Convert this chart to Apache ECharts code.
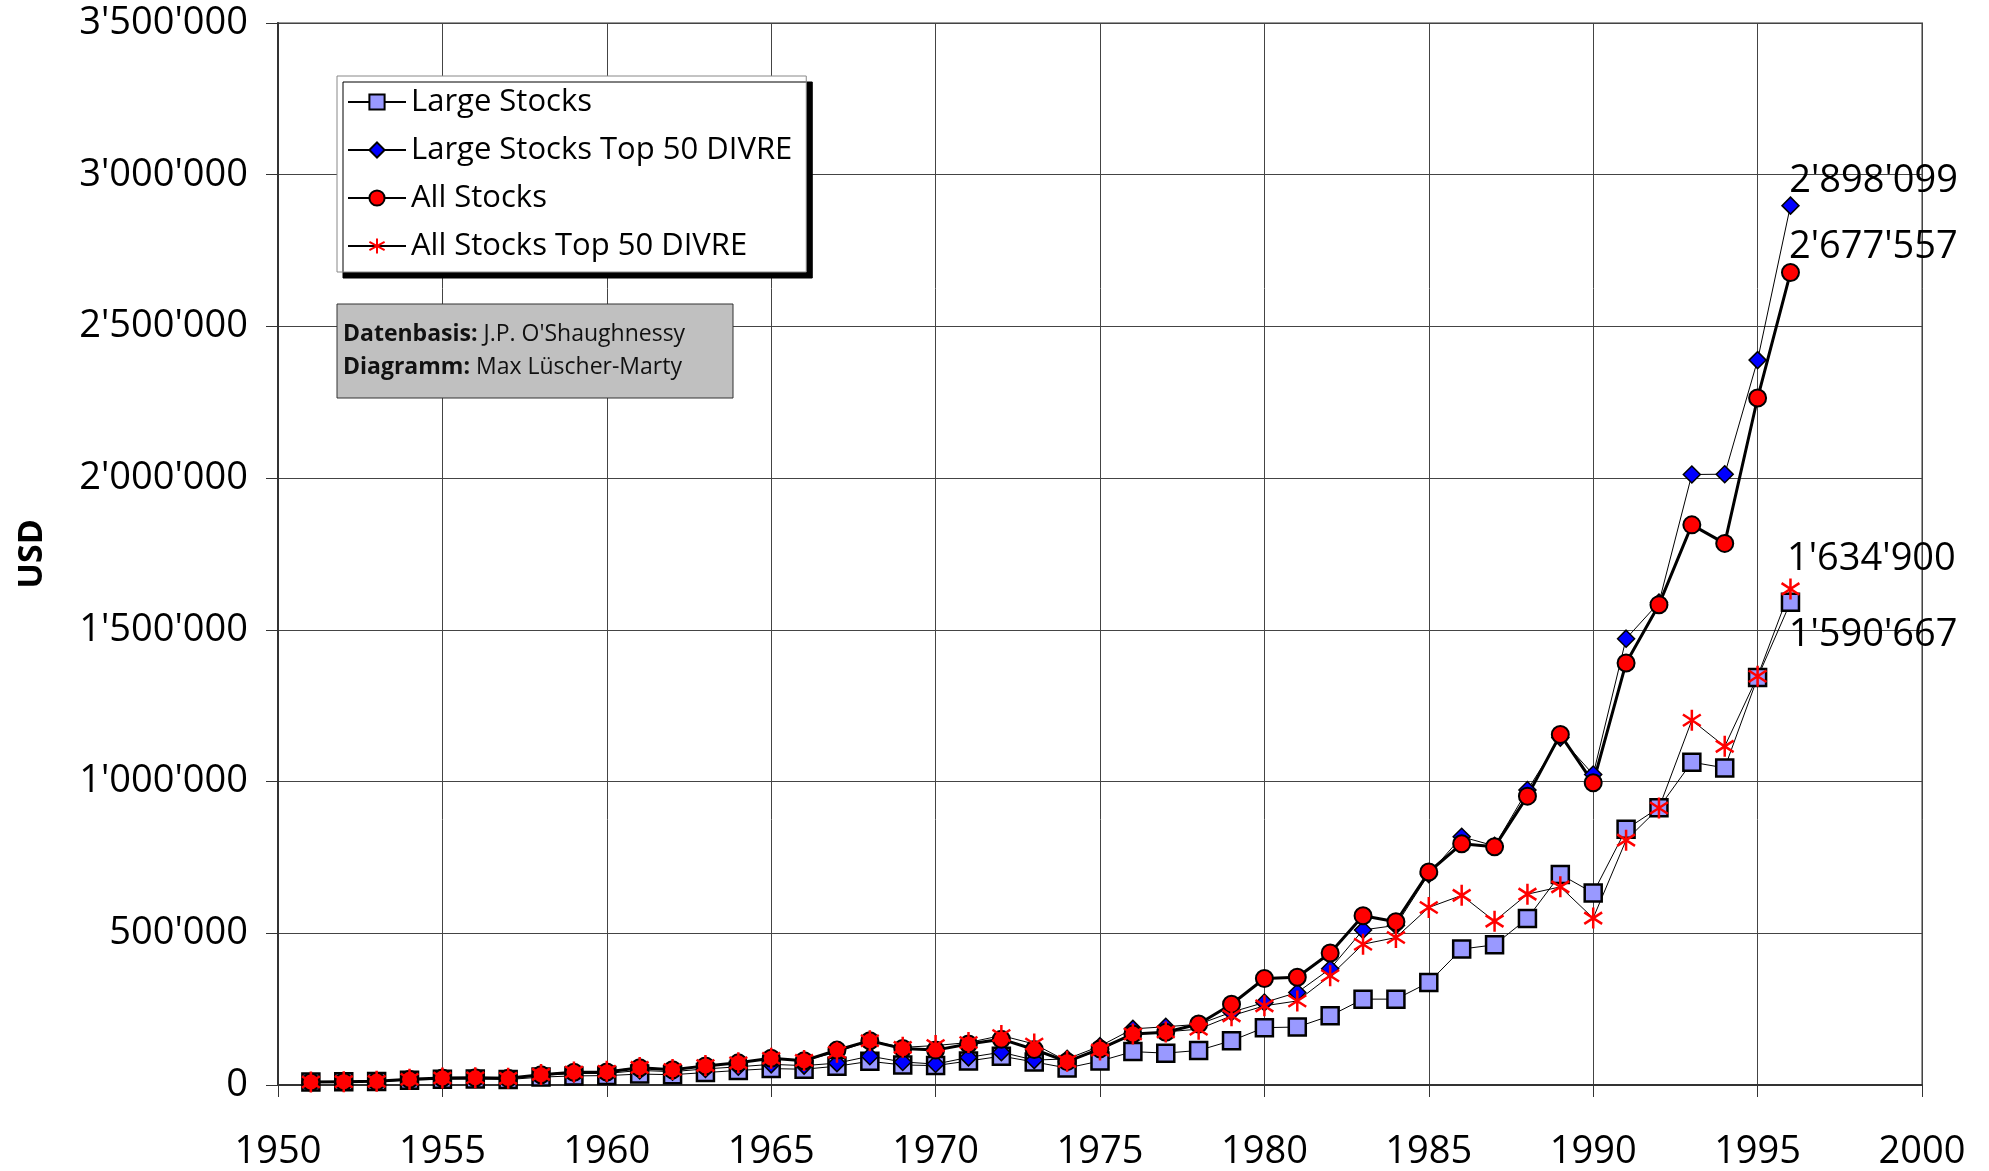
<!DOCTYPE html>
<html>
<head>
<meta charset="utf-8">
<title>Large Stocks vs All Stocks</title>
<script src="https://cdn.jsdelivr.net/npm/echarts@6/dist/echarts.min.js"></script>
<style>
	html, body { margin: 0; padding: 0; background: #fff; }
	#main { width: 1989px; height: 1171px; }
</style>
</head>
<body>
<div id="main"></div>
<script>
	// Jahre 1951 - 1996, Endwert von 10'000 USD
	var years = [1951, 1952, 1953, 1954, 1955, 1956, 1957, 1958, 1959, 1960,
		1961, 1962, 1963, 1964, 1965, 1966, 1967, 1968, 1969, 1970,
		1971, 1972, 1973, 1974, 1975, 1976, 1977, 1978, 1979, 1980,
		1981, 1982, 1983, 1984, 1985, 1986, 1987, 1988, 1989, 1990,
		1991, 1992, 1993, 1994, 1995, 1996];

	var largeStocks = [10000, 11000, 11500, 16000, 19000, 20000, 18000, 26000, 30000, 31000,
		36000, 34000, 41000, 48000, 54000, 52000, 62000, 78000, 66000, 64000,
		79000, 95000, 76000, 56000, 79000, 110000, 105000, 114000, 146000, 189000,
		191000, 228000, 283000, 283000, 338000, 448000, 462000, 549000, 694000, 633000,
		843000, 914000, 1064000, 1045000, 1343000, 1590667];

	var largeTop50 = [10000, 11000, 12000, 18000, 22000, 23000, 21000, 32000, 38000, 38000,
		48000, 44000, 53000, 60000, 68000, 64000, 72000, 95000, 76000, 69000,
		91000, 108000, 82000, 86000, 128000, 185000, 192000, 200000, 240000, 272000,
		305000, 383000, 511000, 526000, 695000, 818000, 788000, 972000, 1145000, 1023000,
		1471000, 1590000, 2012000, 2013000, 2389000, 2898099];

	var allStocks = [10000, 11000, 12000, 19000, 23000, 24000, 22000, 34000, 42000, 43000,
		57000, 50000, 63000, 73000, 88000, 80000, 115000, 146000, 120000, 115000,
		135000, 151000, 117000, 77000, 119000, 168000, 174000, 201000, 266000, 351000,
		355000, 435000, 558000, 538000, 702000, 795000, 785000, 952000, 1155000, 996000,
		1391000, 1583000, 1846000, 1785000, 2264000, 2677557];

	var allTop50 = [10000, 11000, 12000, 19000, 23000, 24000, 22000, 35000, 43000, 45000,
		58000, 51000, 64000, 73000, 88000, 81000, 108000, 146000, 124000, 130000,
		140000, 163000, 135000, 78000, 115000, 168000, 175000, 184000, 228000, 261000,
		277000, 360000, 464000, 486000, 585000, 625000, 540000, 629000, 653000, 550000,
		807000, 913000, 1202000, 1116000, 1347000, 1634900];

	var seriesNames = ['Large Stocks', 'Large Stocks Top 50 DIVRE', 'All Stocks', 'All Stocks Top 50 DIVRE'];

	var FONT = 'Open Sans';

	function fmt(v) {
		return String(Math.round(v)).replace(/\B(?=(\d{3})+(?!\d))/g, "'");
	}

	// Datenpunkte, der letzte bekommt die Beschriftung
	function makeData(vals, labelPos) {
		var out = [];
		for (var i = 0; i < vals.length; i++) {
			if (i == vals.length - 1) {
				out.push({
					value: [years[i], vals[i]],
					label: {
						show: true,
						position: labelPos,
						align: 'left',
						verticalAlign: 'middle',
						formatter: function (p) { return fmt(p.value[1]); },
						color: '#000',
						fontFamily: FONT,
						fontSize: 38
					}
				});
			} else {
				out.push([years[i], vals[i]]);
			}
		}
		return out;
	}

	var starPath = 'path://M10,0L10,20M1.5,4.5L18.5,15.5M18.5,4.5L1.5,15.5';

	var myChart = echarts.init(document.getElementById('main'));
	var option = {
		backgroundColor: '#fff',
		animation: false,
		grid: {
			left: 278,
			right: 67,
			top: 23,
			bottom: 85,
			show: true,
			borderColor: '#999',
			borderWidth: 2
		},
		legend: {
			orient: 'vertical',
			left: 337,
			top: 76,
			padding: [8, 14, 8, 10],
			itemWidth: 58,
			itemHeight: 19,
			itemGap: 12,
			backgroundColor: '#fff',
			borderColor: '#888',
			borderWidth: 1,
			shadowColor: '#000',
			shadowBlur: 0,
			shadowOffsetX: 6,
			shadowOffsetY: 6,
			textStyle: {
				color: '#000',
				fontFamily: FONT,
				fontSize: 31,
				lineHeight: 36
			},
			data: seriesNames
		},
		xAxis: {
			type: 'value',
			min: 1950,
			max: 2000,
			interval: 5,
			axisLine: { lineStyle: { color: '#333', width: 2 } },
			axisTick: { show: true, length: 12, lineStyle: { color: '#333', width: 1 } },
			axisLabel: {
				margin: 48,
				color: '#000',
				fontFamily: FONT,
				fontSize: 38,
				formatter: function (v) { return String(v); }
			},
			splitLine: { show: true, lineStyle: { color: '#444', width: 1 } }
		},
		yAxis: {
			type: 'value',
			min: 0,
			max: 3500000,
			interval: 500000,
			axisLine: { show: true, lineStyle: { color: '#333', width: 2 } },
			axisTick: { show: true, length: 12, lineStyle: { color: '#333', width: 1 } },
			axisLabel: {
				margin: 30,
				color: '#000',
				fontFamily: FONT,
				fontSize: 38,
				formatter: function (v) { return fmt(v); }
			},
			splitLine: { show: true, lineStyle: { color: '#444', width: 1 } }
		},
		graphic: [
			{
				type: 'text',
				x: 32,
				y: 554,
				rotation: Math.PI / 2,
				style: {
					text: 'USD',
					fill: '#000',
					font: 'bold 34px "Open Sans"',
					align: 'center',
					verticalAlign: 'middle'
				}
			},
			{
				type: 'rect',
				shape: { x: 337, y: 304, width: 396, height: 94 },
				style: { fill: '#c0c0c0', stroke: '#333', lineWidth: 1 },
				z: 100
			},
			{
				type: 'text',
				x: 343,
				y: 351,
				z: 101,
				style: {
					text: '{b|Datenbasis:} J.P. O\'Shaughnessy\n{b|Diagramm:} Max Lüscher-Marty',
					fill: '#111',
					fontFamily: FONT,
					fontSize: 23,
					lineHeight: 33,
					verticalAlign: 'middle',
					rich: {
						b: { fontWeight: 'bold', fontFamily: FONT, fontSize: 23, fill: '#111', lineHeight: 33 }
					}
				}
			}
		],
		series: [
			{
				name: seriesNames[0],
				type: 'line',
				symbol: 'rect',
				symbolSize: 17,
				lineStyle: { color: '#000', width: 1 },
				itemStyle: { color: '#9999ff', borderColor: '#000', borderWidth: 2.5 },
				data: makeData(largeStocks, [8, 43])
			},
			{
				name: seriesNames[1],
				type: 'line',
				symbol: 'diamond',
				symbolSize: 17,
				lineStyle: { color: '#000', width: 1 },
				itemStyle: { color: '#0000ff', borderColor: '#000', borderWidth: 1.5 },
				data: makeData(largeTop50, [8, -15])
			},
			{
				name: seriesNames[2],
				type: 'line',
				symbol: 'circle',
				symbolSize: 17,
				lineStyle: { color: '#000', width: 3 },
				itemStyle: { color: '#ff0000', borderColor: '#000', borderWidth: 2 },
				data: makeData(allStocks, [8, -16])
			},
			{
				name: seriesNames[3],
				type: 'line',
				symbol: starPath,
				symbolSize: 21,
				symbolKeepAspect: true,
				lineStyle: { color: '#000', width: 1 },
				itemStyle: { color: 'none', borderColor: '#ff0000', borderWidth: 2.5 },
				data: makeData(allTop50, [8, -17])
			}
		]
	};
	myChart.setOption(option);
</script>
</body>
</html>
